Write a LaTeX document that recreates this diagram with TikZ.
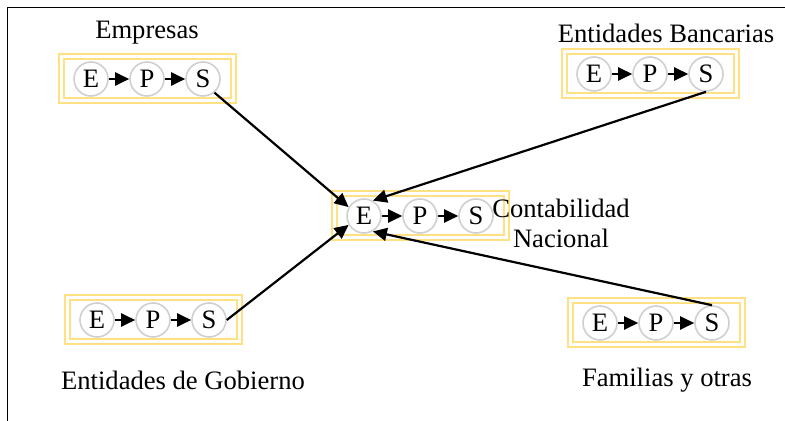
\documentclass[tikz,border=0pt]{standalone}
\usepackage{fontspec}
\setmainfont{Liberation Serif}
\usetikzlibrary{arrows.meta}
\definecolor{oro}{RGB}{255,224,130}
\definecolor{gris}{RGB}{208,208,208}

\begin{document}
\begin{tikzpicture}[x=0.5pt, y=-0.5pt,
    etapa/.style={circle, draw=gris, line width=0.8pt, minimum size=17pt,
      inner sep=0pt, font=\fontsize{13.3}{15}\selectfont},
    marco/.style={draw=oro, line width=1pt, double=white, double distance=1.5pt},
    flecha/.style={-{Triangle[length=7pt, width=6.5pt]}, line width=1.1pt},
    rotulo/.style={font=\fontsize{13.3}{15}\selectfont, align=center}]
    \useasboundingbox (0, 0) rectangle (785, 421);
    \draw (785, 7) -- (7, 7) -- (7, 421);

    % los cinco agentes: nombre / centro
    \foreach \g/\x/\y in {emp/147/79, ban/650/74, cen/420/216, gob/153/320, fam/656/323} {
      \draw[marco] ({\x-86}, {\y-22}) rectangle ({\x+86}, {\y+22});
      \node[etapa] (\g E) at ({\x-56}, \y) {E};
      \node[etapa] (\g P) at (\x, \y) {P};
      \node[etapa] (\g S) at ({\x+56}, \y) {S};
      \draw[flecha] (\g E) -- (\g P);
      \draw[flecha] (\g P) -- (\g S);
    }

    \node[rotulo] (tEmp) at (147, 33) {Empresas};
    \node[rotulo] (tBan) at (666, 33) {Entidades Bancarias};
    \node[rotulo] (tCen) at (561, 223) {Contabilidad\\Nacional};
    \node[rotulo] (tGob) at (183, 380) {Entidades de Gobierno};
    \node[rotulo] (tFam) at (667, 380) {Familias y otras};

    \draw[flecha] (empS.-50) -- (cenE.150);
    \draw[flecha] (banS.south) -- (cenE.60);
    \draw[flecha] (gobS.east) -- (cenE.-150);
    \draw[flecha] (famS.north) -- (cenE.-60);
  \end{tikzpicture}
\end{document}
